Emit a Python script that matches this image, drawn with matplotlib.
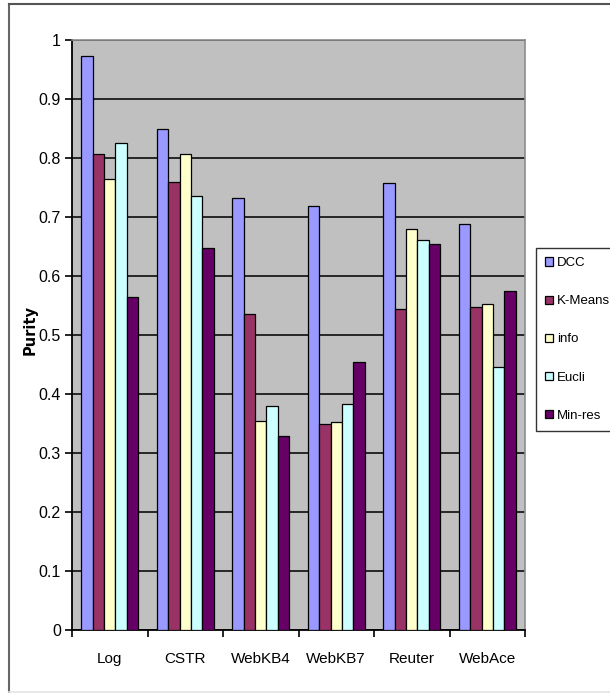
import matplotlib
matplotlib.use("Agg")
import matplotlib.pyplot as plt
from matplotlib.lines import Line2D
import numpy as np

datasets = ["Log", "CSTR", "WebKB4", "WebKB7", "Reuter", "WebAce"]
methods = ["DCC", "K-Means", "info", "Eucli", "Min-res"]

dcc = [0.973, 0.850, 0.733, 0.719, 0.758, 0.688]
kmeans = [0.807, 0.759, 0.535, 0.350, 0.544, 0.547]
info = [0.764, 0.806, 0.355, 0.353, 0.680, 0.553]
eucli = [0.825, 0.736, 0.380, 0.383, 0.661, 0.445]
minres = [0.565, 0.648, 0.329, 0.454, 0.655, 0.575]

series = [dcc, kmeans, info, eucli, minres]
colors = ["#9999FF", "#993366", "#FFFFCC", "#CCFFFF", "#660066"]
yticks = [0, 0.1, 0.2, 0.3, 0.4, 0.5, 0.6, 0.7, 0.8, 0.9, 1]
ytick_labels = ["0", "0.1", "0.2", "0.3", "0.4", "0.5", "0.6", "0.7", "0.8", "0.9", "1"]

font = ["Liberation Sans", "DejaVu Sans"]

W, H = 610, 700
fig = plt.figure(figsize=(W / 100, H / 100), dpi=100)
ax = fig.add_axes([72 / W, 1 - 630 / H, (525 - 72) / W, (630 - 40) / H])
ax.set_facecolor("#C0C0C0")

x = np.arange(len(datasets))
bw = 0.152
for i, (vals, c, name) in enumerate(zip(series, colors, methods)):
    ax.bar(x + (i - 2) * bw, vals, width=bw, color=c, edgecolor="black",
           linewidth=0.9, label=name, zorder=3)

ax.set_xlim(-0.5, len(datasets) - 0.5)
ax.set_ylim(0, 1)

# horizontal gridlines
ax.set_yticks(yticks)
ax.set_yticklabels(ytick_labels, family=font, fontsize=11.5)
ax.yaxis.grid(True, color="#1a1a1a", linewidth=1.3, zorder=1)
ax.set_axisbelow(True)
ax.tick_params(axis="y", direction="out", length=5, width=1.2, pad=3, color="black")

# category boundaries as major ticks, names as minor ticks
ax.set_xticks(np.arange(-0.5, len(datasets), 1.0))
ax.set_xticklabels([])
ax.set_xticks(x, minor=True)
ax.set_xticklabels(datasets, minor=True, family=font, fontsize=11)
ax.tick_params(axis="x", which="major", direction="out", length=5, width=1.2)
ax.tick_params(axis="x", which="minor", length=0, pad=16)

for side in ("top", "right"):
    ax.spines[side].set_color("#8c8c8c")
    ax.spines[side].set_linewidth(1.2)
for side in ("left", "bottom"):
    ax.spines[side].set_color("black")
    ax.spines[side].set_linewidth(1.3)

fig.text(30 / W, 1 - 330 / H, "Purity", rotation=90, ha="center", va="center",
         fontsize=10.5, fontweight="bold", family="DejaVu Sans")

leg = fig.legend(loc="upper left", bbox_to_anchor=(536 / W, 1 - 248 / H),
                 frameon=True, fancybox=False, edgecolor="black",
                 prop={"family": font, "size": 9.5},
                 handlelength=0.6, handleheight=0.6, handletextpad=0.3,
                 labelspacing=1.98, borderpad=0.7, borderaxespad=0)
leg.get_frame().set_linewidth(1.0)

# outer chart frame
fig.add_artist(Line2D([9 / W, 9 / W], [8 / H, 1 - 4 / H], transform=fig.transFigure,
                      color="#666666", linewidth=1.5))
fig.add_artist(Line2D([9 / W, 1], [1 - 4 / H, 1 - 4 / H], transform=fig.transFigure,
                      color="#555555", linewidth=1.5))
fig.add_artist(Line2D([9 / W, 1], [8 / H, 8 / H], transform=fig.transFigure,
                      color="#e4e4e4", linewidth=1.2))

fig.savefig("out.png", dpi=100, facecolor="white")
